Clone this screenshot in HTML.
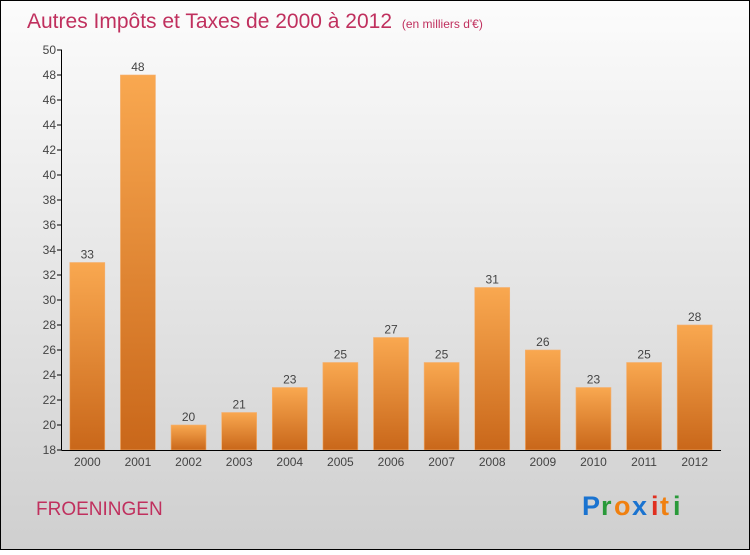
<!DOCTYPE html>
<html><head><meta charset="utf-8"><style>
html,body{margin:0;padding:0;}
body{width:750px;height:550px;overflow:hidden;font-family:"Liberation Sans",sans-serif;}
</style></head><body>
<svg id="chart" width="750" height="550" xmlns="http://www.w3.org/2000/svg">
<defs>
<linearGradient id="bg" x1="0" y1="0" x2="0" y2="1"><stop offset="0" stop-color="#fcfcfc"/><stop offset="1" stop-color="#cfcfcf"/></linearGradient>
<linearGradient id="bar" x1="0" y1="0" x2="0" y2="1"><stop offset="0" stop-color="#f9a850"/><stop offset="1" stop-color="#c9671a"/></linearGradient>
</defs>
<rect x="0.5" y="0.5" width="749" height="549" fill="url(#bg)" stroke="#000"/>
<text x="27" y="28" font-size="21" fill="#c0305e">Autres Impôts et Taxes de 2000 à 2012 <tspan font-size="12" dx="4">(en milliers d'€)</tspan></text>
<text x="36" y="515" font-size="19" fill="#c0305e">FROENINGEN</text>
<g font-size="27" font-weight="bold" font-family="'Liberation Sans',sans-serif">
<text x="582" y="515" fill="#1a73d0">P</text><text x="601" y="515" fill="#2a9a3a">r</text><text x="614" y="515" fill="#f08010">o</text><text x="632" y="515" fill="#1a73d0">x</text><text x="651" y="515" fill="#e03020">i</text><text x="660" y="515" fill="#f08010">t</text><text x="673" y="515" fill="#2a9a3a">i</text>
</g>
<g id="plot"></g>
</svg>
<script>
const categories=["2000","2001","2002","2003","2004","2005","2006","2007","2008","2009","2010","2011","2012"];
const values=[33,48,20,21,23,25,27,25,31,26,23,25,28];
const yTicks=[18,20,22,24,26,28,30,32,34,36,38,40,42,44,46,48,50];
const ns="http://www.w3.org/2000/svg";
const g=document.getElementById('plot');
const x0=62,x1=720,yMin=18,yMax=50,yTop=50,yBot=450;
const y=v=>yBot-(v-yMin)/(yMax-yMin)*(yBot-yTop);
const step=(x1-x0)/categories.length;
const xc=i=>x0+step*(i+0.5);
function mk(t,a){const e=document.createElementNS(ns,t);for(const k in a)e.setAttribute(k,a[k]);g.appendChild(e);return e;}
values.forEach((v,i)=>{
 const r=mk('rect',{x:xc(i)-17.5,y:y(v),width:35,height:yBot-y(v),fill:'url(#bar)',stroke:'#f4b070','stroke-width':0.6});
 
 
 const t=mk('text',{x:xc(i),y:y(v)-4,'font-size':12,'text-anchor':'middle',fill:'#444'});
 t.textContent=v;
 
 
 const l=mk('text',{x:xc(i),y:466,'font-size':12,'text-anchor':'middle',fill:'#444'});
 l.textContent=categories[i];
 
 
});
yTicks.forEach(v=>{
 const tk=mk('line',{x1:57,x2:62,y1:y(v),y2:y(v),stroke:'#000'});
 
 
 const t=mk('text',{x:56,y:y(v)+4,'font-size':12,'text-anchor':'end',fill:'#444'});
 t.textContent=v;
 
 
});
const ya=mk('line',{x1:61.5,x2:61.5,y1:yTop,y2:yBot,stroke:'#000'});


const xa=mk('line',{x1:61.5,x2:721,y1:yBot+0.5,y2:yBot+0.5,stroke:'#000'});


</script>
</body></html>
